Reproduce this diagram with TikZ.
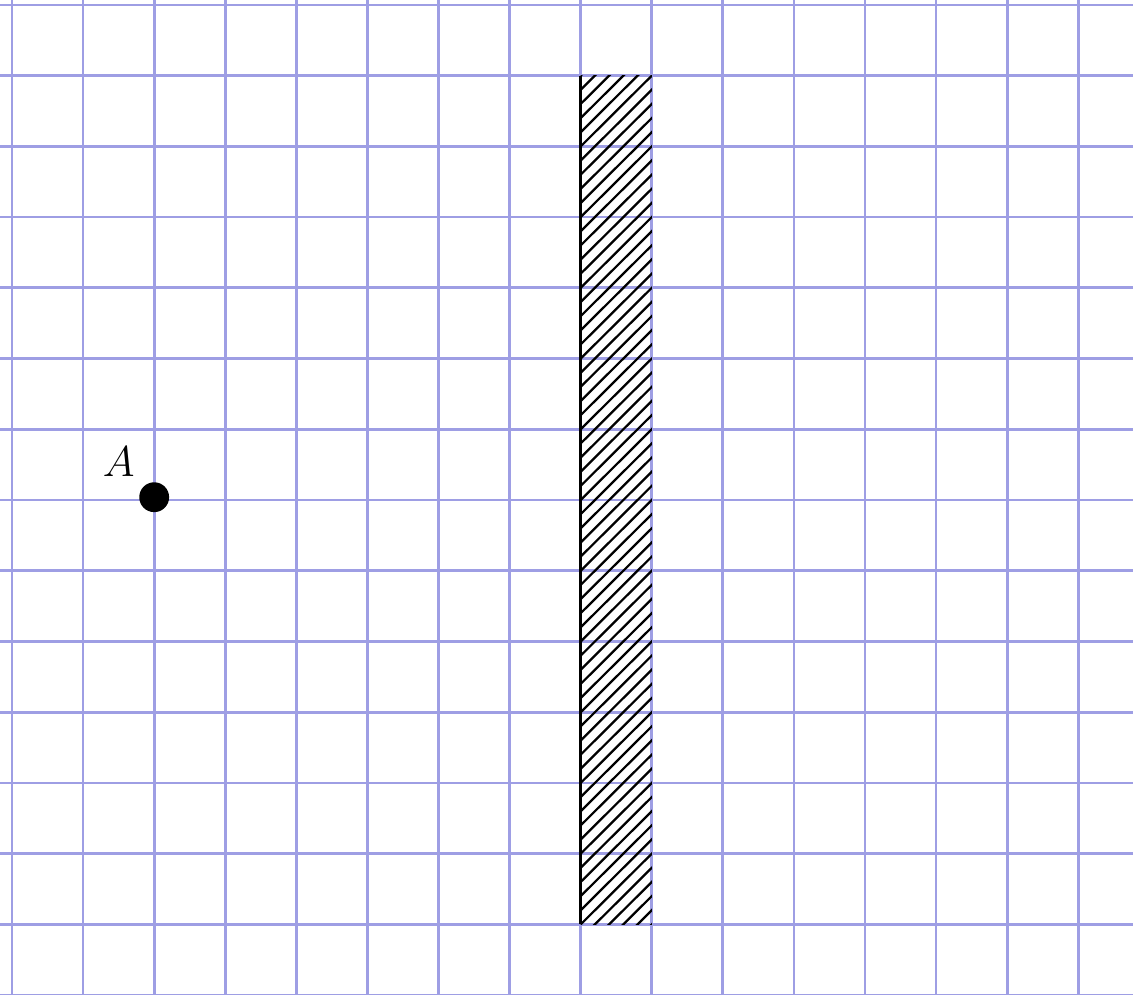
\documentclass[tikz,border=0pt]{standalone}
\usepackage{amsmath}
\usepackage[dvipsnames]{xcolor}
\definecolor{gridblue}{RGB}{158,158,228}

\begin{document}
\begin{tikzpicture}[x=1cm, y=0.995cm,
        gridline/.style={gridblue, line width=1.1pt},
        hatchline/.style={black, line width=0.9pt}]
        \useasboundingbox (-0.169,0.014) rectangle (15.77,14.07);   % Рамка

        % Сетка
        \foreach \x in {0,...,15} \draw[gridline] (\x,-0.5) -- (\x,14.5);
        \foreach \y in {0,...,14} \draw[gridline] (-0.5,\y) -- (16.5,\y);

        % Штриховка
        \begin{scope}
            \clip (8,1) rectangle (9,13);
            \foreach \t in {-14,-13.8,...,1.2} \draw[hatchline] (8+\t,0) -- ++(14,14);
        \end{scope}
        \draw[black, line width=1.3pt] (8,1) -- (8,13);    % Стенка

        % Точка
        \node[fill=black, circle, inner sep=0pt, minimum size=0.42cm] (A) at (2,7.04){};
        \node[font=\fontsize{19}{22}\selectfont] (lA) at (1.5,7.54) {$A$};
    \end{tikzpicture}
\end{document}
